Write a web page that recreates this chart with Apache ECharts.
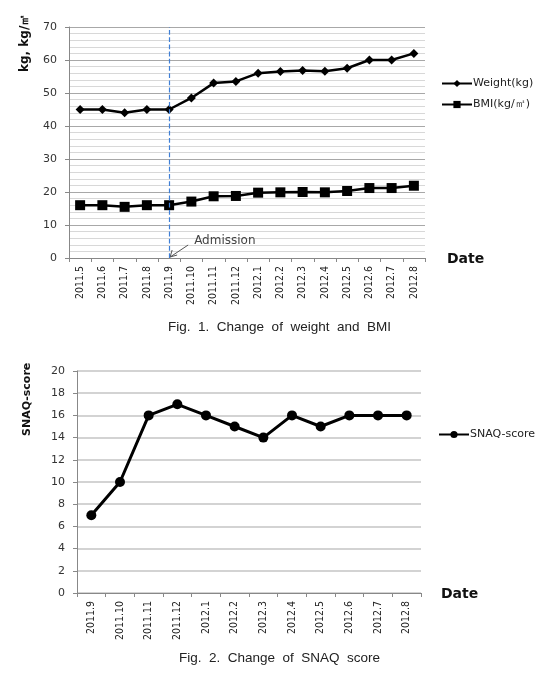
<!DOCTYPE html>
<html>
<head>
<meta charset="utf-8">
<script src="https://cdn.jsdelivr.net/npm/echarts@6/dist/echarts.min.js"></script>
<style>
  html, body { margin: 0; padding: 0; background: #fff; }
  #chart { width: 559px; height: 690px; }
</style>
</head>
<body>
<div id="chart"></div>
<script>
// Fig. 1 data
const months1 = ['2011.5', '2011.6', '2011.7', '2011.8', '2011.9', '2011.10', '2011.11', '2011.12',
  '2012.1', '2012.2', '2012.3', '2012.4', '2012.5', '2012.6', '2012.7', '2012.8'];
const weight = [45, 45, 44, 45, 45, 48.5, 53, 53.5, 56, 56.5, 56.8, 56.6, 57.5, 60, 60, 62];
const bmi = [16, 16, 15.5, 16, 16, 17.1, 18.7, 18.8, 19.8, 19.9, 20, 19.9, 20.3, 21.2, 21.2, 21.9];
const admission = '2011.9';

// Fig. 2 data
const months2 = ['2011.9', '2011.10', '2011.11', '2011.12', '2012.1', '2012.2', '2012.3', '2012.4',
  '2012.5', '2012.6', '2012.7', '2012.8'];
const snaq = [7, 10, 16, 17, 16, 15, 14, 16, 15, 16, 16, 16];

const tickFont = 'DejaVu Sans, Verdana, sans-serif';
const capFont = '"Liberation Sans", Arial, sans-serif';

const chart = echarts.init(document.getElementById('chart'));

const xAxisBase = (data) => ({
  type: 'category',
  data: data,
  boundaryGap: true,
  axisLine: { lineStyle: { color: '#888', width: 1 } },
  axisTick: { show: true, interval: 0, length: 4, lineStyle: { color: '#888' } },
  axisLabel: {
    interval: 0, rotate: 90, margin: 8,
    fontFamily: '"DejaVu Sans Condensed", "Liberation Sans Narrow", sans-serif',
    fontSize: 10.5, color: '#222'
  },
  nameLocation: 'end',
  nameTextStyle: { fontFamily: tickFont, fontWeight: 'bold', fontSize: 14, color: '#111', align: 'left', verticalAlign: 'top', padding: [-6, 0, 0, 0] }
});

const legendText = { fontFamily: tickFont, fontSize: 11, color: '#222', padding: [0, 0, 0, -4] };

const option = {
  animation: false,
  backgroundColor: '#fff',
  grid: [
    { left: 69, top: 27, right: 134, bottom: 432 },
    { left: 77, top: 371, right: 138, bottom: 97 }
  ],
  legend: [
    {
      orient: 'vertical', left: 436, top: 73, itemGap: 10,
      itemWidth: 30, itemHeight: 9,
      textStyle: legendText,
      data: ['Weight(kg)', 'BMI(kg/㎡)']
    },
    {
      orient: 'vertical', left: 433, top: 424,
      itemWidth: 30, itemHeight: 9,
      textStyle: legendText,
      data: ['SNAQ-score']
    }
  ],
  xAxis: [
    Object.assign(xAxisBase(months1), { gridIndex: 0, name: 'Date', nameGap: 22 }),
    Object.assign(xAxisBase(months2), { gridIndex: 1, name: 'Date', nameGap: 20 })
  ],
  yAxis: [
    {
      type: 'value', gridIndex: 0, min: 0, max: 70, interval: 10,
      axisLine: { show: true, lineStyle: { color: '#888' } },
      axisTick: { show: true, length: 4, lineStyle: { color: '#888' } },
      axisLabel: { margin: 12, fontFamily: tickFont, fontSize: 11, color: '#333' },
      splitLine: { lineStyle: { color: '#a8a8a8', width: 1 } },
      minorTick: { show: false, splitNumber: 5 },
      minorSplitLine: { show: true, lineStyle: { color: '#d8d8d8', width: 1 } }
    },
    {
      type: 'value', gridIndex: 1, min: 0, max: 20, interval: 2,
      axisLine: { show: true, lineStyle: { color: '#888' } },
      axisTick: { show: true, length: 4, lineStyle: { color: '#888' } },
      axisLabel: { margin: 12, fontFamily: tickFont, fontSize: 11, color: '#333' },
      splitLine: { lineStyle: { color: '#c4c4c4', width: 1.5 } }
    }
  ],
  series: [
    {
      name: 'Weight(kg)', type: 'line', xAxisIndex: 0, yAxisIndex: 0,
      data: weight, symbol: 'diamond', symbolSize: 9,
      lineStyle: { color: '#000', width: 2.5 }, itemStyle: { color: '#000' },
      markLine: {
        silent: true, symbol: ['none', 'none'],
        label: { show: false },
        emphasis: { disabled: true },
        data: [{ xAxis: admission, lineStyle: { type: 'dashed', color: '#3f7fd6', width: 1.2, opacity: 1 } }]
      }
    },
    {
      name: 'BMI(kg/㎡)', type: 'line', xAxisIndex: 0, yAxisIndex: 0,
      data: bmi, symbol: 'rect', symbolSize: 10,
      lineStyle: { color: '#000', width: 2.5 }, itemStyle: { color: '#000' }
    },
    {
      name: 'SNAQ-score', type: 'line', xAxisIndex: 1, yAxisIndex: 1,
      data: snaq, symbol: 'circle', symbolSize: 10,
      lineStyle: { color: '#000', width: 3 }, itemStyle: { color: '#000' }
    }
  ]
};

chart.setOption(option);

// annotations placed from the axis scales
const p = chart.convertToPixel({ xAxisIndex: 0, yAxisIndex: 0 }, [admission, 0]);
const ax = p[0] + 1, ay = p[1] - 1;
chart.setOption({
  graphic: [
    {
      type: 'line', shape: { x1: ax + 18, y1: ay - 12, x2: ax, y2: ay },
      style: { stroke: '#555', lineWidth: 1 }
    },
    {
      type: 'polyline', shape: { points: [[ax + 2, ay - 7], [ax, ay], [ax + 7, ay - 2]] },
      style: { stroke: '#555', lineWidth: 1, fill: null }
    },
    {
      type: 'text', left: ax + 24, top: ay - 22,
      style: { text: 'Admission', font: '12px ' + tickFont, fill: '#444' }
    },
    {
      type: 'text', x: 19, y: 72, rotation: Math.PI / 2,
      style: { text: 'kg, kg/㎡', font: 'bold 12px ' + tickFont, fill: '#111' }
    },
    {
      type: 'text', x: 22, y: 436, rotation: Math.PI / 2,
      style: { text: 'SNAQ-score', font: 'bold 11px ' + tickFont, fill: '#111' }
    },
    {
      type: 'text', left: 'center', top: 320,
      style: { text: 'Fig.  1.  Change  of  weight  and  BMI', font: '13.5px ' + capFont, fill: '#222' }
    },
    {
      type: 'text', left: 'center', top: 651,
      style: { text: 'Fig.  2.  Change  of  SNAQ  score', font: '13.5px ' + capFont, fill: '#222' }
    }
  ]
});

window.addEventListener('resize', () => chart.resize());
</script>
</body>
</html>
